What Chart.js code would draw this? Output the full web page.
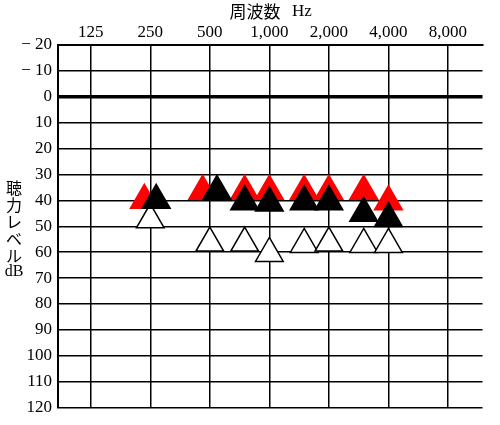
<!DOCTYPE html>
<html><head><meta charset="utf-8">
<script src="https://cdn.jsdelivr.net/npm/chart.js@4"></script>
<style>body{margin:0;background:#fff}#wrap{width:500px;height:425px}</style>
</head><body><div id="wrap"><canvas id="c"></canvas></div>
<script>
// frequencies (Hz) and thresholds (dB)
const freqs = [250, 500, 750, 1000, 1500, 2000, 3000, 4000]
const freqLabels = ['125', '250', '500', '1,000', '2,000', '4,000', '8,000']
const redVals = [40, 36.5, 36.5, 36.5, 36.5, 36.5, 36.5, 40.5]
const blackVals = [40, 36.5, 40.5, 41, 40.5, 40.5, 45, 47]
const whiteVals = [47.5, 56.5, 56.5, 60.5, 57, 56.5, 57, 57]
// small sideways nudge (octaves) so overlapping marks stay visible
const redNudge = [-0.1, -0.12, 0, 0, 0, 0, 0, 0]
const blackNudge = [0.1, 0.12, 0, 0, 0, 0, 0, 0]

const oct = f => Math.log2(f / 125)
const pts = (vals, nudge) => freqs.map((f, i) => ({ x: oct(f) + (nudge ? nudge[i] : 0), y: vals[i] }))
const serif = '"Liberation Serif", "DejaVu Serif", serif'

const tri = (label, data, fill) => ({
  label, data, showLine: false, pointStyle: 'triangle', pointRadius: 16,
  backgroundColor: fill, borderColor: fill === '#fff' ? '#000' : fill, borderWidth: 1.5,
})

const labelsPlugin = {
  id: 'labels',
  afterDraw(chart) {
    const ctx = chart.ctx
    ctx.save()
    ctx.fillStyle = '#000'
    ctx.textAlign = 'center'
    ctx.textBaseline = 'middle'
    ctx.font = '17px "Noto Sans CJK JP"'
    ctx.fillText('周波数', 255, 12)
    ctx.font = '17px ' + serif
    ctx.fillText('Hz', 302, 12)
    ctx.font = '16px "Noto Sans CJK JP"'
    ;['聴', '力', 'レ', 'ベ', 'ル'].forEach((ch, i) => ctx.fillText(ch, 14, 188 + i * 17))
    ctx.font = '16px ' + serif
    ctx.fillText('dB', 14, 272)
    ctx.restore()
  },
}

new Chart(document.getElementById('c'), {
  type: 'scatter',
  data: {
    datasets: [
      tri('black', pts(blackVals, blackNudge), '#000'),
      tri('red', pts(redVals, redNudge), '#f00'),
      tri('white', pts(whiteVals), '#fff'),
    ],
  },
  options: {
    responsive: true,
    maintainAspectRatio: false,
    animation: false,
    layout: { padding: { right: 14, bottom: 14 } },
    plugins: { legend: { display: false }, tooltip: { enabled: false } },
    scales: {
      x: {
        position: 'top', min: -0.55, max: 6.58,
        afterBuildTicks: s => { s.ticks = freqLabels.map((_, i) => ({ value: i })) },
        afterFit: s => { s.height = 45 },
        ticks: { callback: v => freqLabels[v], color: '#000', font: { family: serif, size: 17 }, padding: 2, maxRotation: 0 },
        grid: { color: '#000', lineWidth: 1.5, drawTicks: false },
        border: { color: '#000', width: 2 },
      },
      y: {
        reverse: true, min: -20, max: 120,
        afterFit: s => { s.width = 58 },
        ticks: {
          stepSize: 10, color: '#000', font: { family: serif, size: 17 }, padding: 6,
          callback: v => v < 0 ? '− ' + Math.abs(v) : String(v),
        },
        grid: { color: '#000', lineWidth: c => c.tick && c.tick.value === 0 ? 3.5 : 1.5, drawTicks: false },
        border: { color: '#000', width: 2 },
      },
    },
  },
  plugins: [labelsPlugin],
})
</script></body></html>
